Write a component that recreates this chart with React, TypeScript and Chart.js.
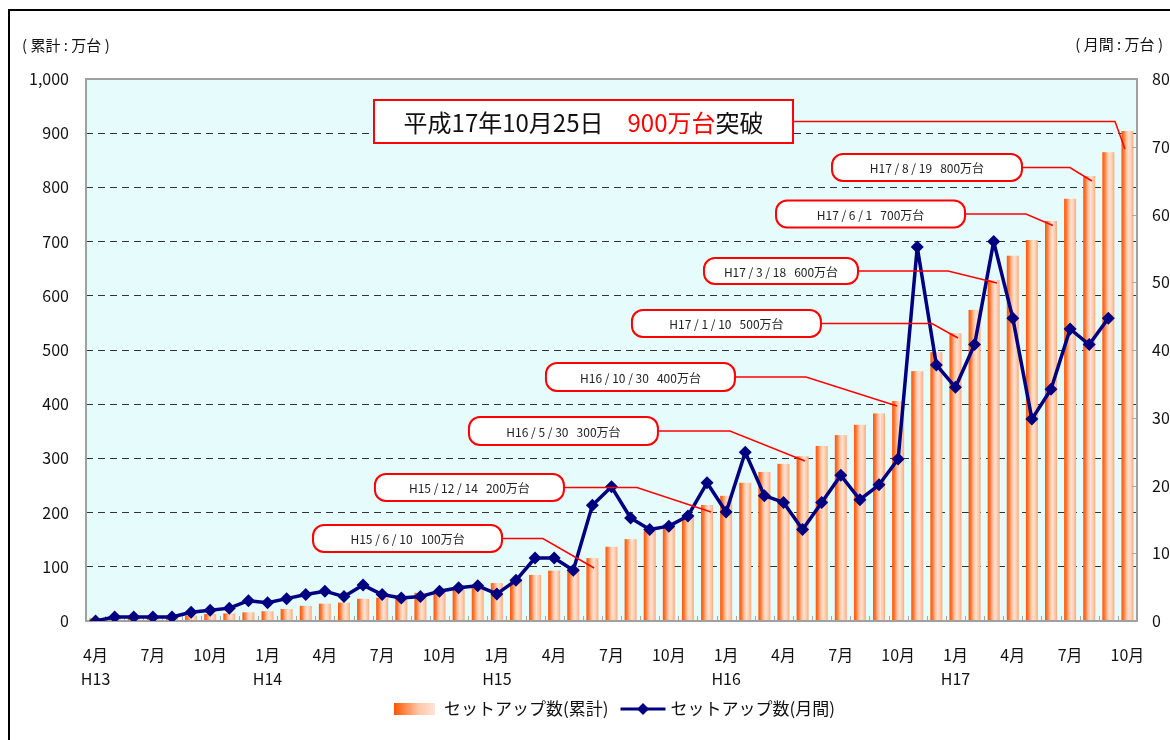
import { useEffect, useRef } from "react";
import { Chart, registerables } from "chart.js";

Chart.register(...registerables);

const FONT = '"Noto Sans CJK JP", "Noto Sans", sans-serif';

// ---- data ----
const categories = [
  "H13/4", "H13/5", "H13/6", "H13/7", "H13/8", "H13/9", "H13/10", "H13/11", "H13/12",
  "H14/1", "H14/2", "H14/3", "H14/4", "H14/5", "H14/6", "H14/7", "H14/8", "H14/9", "H14/10", "H14/11", "H14/12",
  "H15/1", "H15/2", "H15/3", "H15/4", "H15/5", "H15/6", "H15/7", "H15/8", "H15/9", "H15/10", "H15/11", "H15/12",
  "H16/1", "H16/2", "H16/3", "H16/4", "H16/5", "H16/6", "H16/7", "H16/8", "H16/9", "H16/10", "H16/11", "H16/12",
  "H17/1", "H17/2", "H17/3", "H17/4", "H17/5", "H17/6", "H17/7", "H17/8", "H17/9", "H17/10",
];

const tickLabels: (string | string[])[] = [
  ["4月", "H13"], "", "", "7月", "", "", "10月", "", "",
  ["1月", "H14"], "", "", "4月", "", "", "7月", "", "", "10月", "", "",
  ["1月", "H15"], "", "", "4月", "", "", "7月", "", "", "10月", "", "",
  ["1月", "H16"], "", "", "4月", "", "", "7月", "", "", "10月", "", "",
  ["1月", "H17"], "", "", "4月", "", "", "7月", "", "", "10月",
];

// cumulative set-ups (万台), left axis
const cumulative = [
  5, 6, 7, 8, 9, 10, 13, 14, 16, 18,
  22, 28, 32, 34, 41, 43, 46, 52, 55, 58,
  62, 70, 76, 85, 93, 99, 116, 137, 151, 166,
  178, 196, 214, 231, 255, 275, 290, 304, 323, 343,
  362, 383, 406, 461, 496, 531, 574, 629, 674, 703,
  738, 779, 821, 865, 904,
];

// monthly set-ups (万台), right axis
const monthly: (number | null)[] = [
  0.0, 0.6, 0.6, 0.6, 0.6, 1.3, 1.6, 1.9, 3.0, 2.7,
  3.3, 3.9, 4.4, 3.6, 5.3, 3.9, 3.4, 3.6, 4.4, 4.9,
  5.2, 4.0, 6.0, 9.3, 9.3, 7.5, 17.1, 19.8, 15.2, 13.5,
  14.0, 15.5, 20.4, 16.1, 24.9, 18.5, 17.5, 13.5, 17.5, 21.5,
  17.9, 20.1, 23.9, 55.2, 37.8, 34.5, 40.8, 56.0, 44.7, 29.8,
  34.2, 43.1, 40.8, 44.7, null,
];

const leftTicks = [0, 100, 200, 300, 400, 500, 600, 700, 800, 900, 1000];
const rightTicks = [0, 10, 20, 30, 40, 50, 60, 70, 80];

const milestoneDates = ["H15/6/10", "H15/12/14", "H16/5/30", "H16/10/30", "H17/1/10", "H17/3/18", "H17/6/1", "H17/8/19"];
const milestoneAmounts = [100, 200, 300, 400, 500, 600, 700, 800];

const headline = { date: "平成17年10月25日", amount: "900万台", suffix: "突破" };

const seriesNames = ["セットアップ数(累計)", "セットアップ数(月間)"];
const unitLeft = "( 累計 : 万台 )";
const unitRight = "( 月間 : 万台 )";

// callout geometry in data units (x: category index, y: left-axis value)
const calloutLayout = [
  { x0: 11.38, x1: 21.27, yT: 177.1, yB: 127.3, knee: 23.41, ex: 26.09, ey: 97.8 },
  { x0: 14.62, x1: 24.51, yT: 271.2, yB: 221.4, knee: 28.33, ex: 32.21, ey: 201.1 },
  { x0: 19.54, x1: 29.43, yT: 376.4, yB: 324.7, knee: 33.2, ex: 37.12, ey: 295.2 },
  { x0: 23.57, x1: 33.46, yT: 476.0, yB: 424.4, knee: 37.18, ex: 41.94, ey: 396.7 },
  { x0: 28.07, x1: 37.96, yT: 573.8, yB: 524.0, knee: 43.77, ex: 45.13, ey: 522.1 },
  { x0: 31.84, x1: 39.9, yT: 669.7, yB: 621.8, knee: 44.61, ex: 47.17, ey: 623.6 },
  { x0: 35.61, x1: 45.5, yT: 775.8, yB: 726.0, knee: 48.69, ex: 50.1, ey: 729.7 },
  { x0: 38.54, x1: 48.48, yT: 861.6, yB: 811.8, knee: 50.99, ex: 52.14, ey: 811.8 },
];
const headlineLayout = { x0: 14.57, x1: 36.5, yT: 961.3, yB: 881.9, knee: 53.35, ex: 53.87, ey: 870.8 };

const W = 1170;
const H = 740;

function barGradient(ctx: CanvasRenderingContext2D, l: number, r: number) {
  const g = ctx.createLinearGradient(l, 0, r, 0);
  g.addColorStop(0, "#ff5500");
  g.addColorStop(0.2, "#ff7a38");
  g.addColorStop(0.42, "#ffc2a0");
  g.addColorStop(0.62, "#ffe2d2");
  g.addColorStop(0.82, "#ffcaac");
  g.addColorStop(1, "#ffa878");
  return g;
}

function drawDiamond(ctx: CanvasRenderingContext2D, x: number, y: number, r: number) {
  ctx.beginPath();
  ctx.moveTo(x, y - r);
  ctx.lineTo(x + r, y);
  ctx.lineTo(x, y + r);
  ctx.lineTo(x - r, y);
  ctx.closePath();
  ctx.fill();
}

const decoPlugin = {
  id: "deco",
  beforeDraw(chart: any) {
    const { ctx, chartArea: a } = chart;
    ctx.save();
    ctx.fillStyle = "#ffffff";
    ctx.fillRect(0, 0, W, H);
    ctx.strokeStyle = "#000000";
    ctx.lineWidth = 2;
    ctx.beginPath();
    ctx.moveTo(9, H);
    ctx.lineTo(9, 10);
    ctx.lineTo(W, 10);
    ctx.stroke();
    ctx.fillStyle = "#e6fcfc";
    ctx.fillRect(a.left, a.top, a.right - a.left, a.bottom - a.top);
    ctx.restore();
  },
  afterDatasetDraw(chart: any, args: any) {
    if (args.index !== 0) return;
    const { ctx, chartArea: a } = chart;
    const meta = chart.getDatasetMeta(0);
    ctx.save();
    meta.data.forEach((el: any) => {
      const p = el.getProps(["x", "y", "base", "width"], true);
      const l = p.x - p.width / 2;
      const r = p.x + p.width / 2;
      ctx.fillStyle = barGradient(ctx, l, r);
      ctx.fillRect(l, p.y, r - l, p.base - p.y);
    });
    // inner tick marks on the category axis
    const xs = chart.scales.x;
    ctx.strokeStyle = "#a8a8a8";
    ctx.lineWidth = 1;
    for (let i = 0; i <= categories.length; i++) {
      const px = Math.round(xs.getPixelForValue(i - 0.5)) + 0.5;
      ctx.beginPath();
      ctx.moveTo(px, a.bottom);
      ctx.lineTo(px, a.bottom - 5);
      ctx.stroke();
    }
    const y1 = chart.scales.y1;
    rightTicks.forEach((t) => {
      const py = Math.round(y1.getPixelForValue(t)) + 0.5;
      ctx.beginPath();
      ctx.moveTo(a.right, py);
      ctx.lineTo(a.right - 5, py);
      ctx.stroke();
    });
    // plot border
    ctx.strokeStyle = "#a0a0a0";
    ctx.lineWidth = 2;
    ctx.strokeRect(a.left, a.top, a.right - a.left, a.bottom - a.top);
    ctx.restore();
  },
  afterDraw(chart: any) {
    const { ctx, chartArea: a } = chart;
    const xs = chart.scales.x;
    const ys = chart.scales.y;
    ctx.save();

    const drawLeader = (c: any, my: number, x1: number) => {
      ctx.strokeStyle = "#ff0000";
      ctx.lineWidth = 1.5;
      ctx.beginPath();
      ctx.moveTo(x1, my);
      ctx.lineTo(xs.getPixelForValue(c.knee), my);
      ctx.lineTo(xs.getPixelForValue(c.ex), ys.getPixelForValue(c.ey));
      ctx.stroke();
    };

    calloutLayout.forEach((c, i) => {
      const x0 = xs.getPixelForValue(c.x0);
      const x1 = xs.getPixelForValue(c.x1);
      const yT = ys.getPixelForValue(c.yT);
      const yB = ys.getPixelForValue(c.yB);
      const my = (yT + yB) / 2;
      drawLeader(c, my, x1);
      ctx.beginPath();
      (ctx as any).roundRect(x0, yT, x1 - x0, yB - yT, 11);
      ctx.fillStyle = "#ffffff";
      ctx.fill();
      ctx.strokeStyle = "#ff0000";
      ctx.lineWidth = 2;
      ctx.stroke();
      const label = milestoneDates[i].split("/").join(" / ") + "   " + milestoneAmounts[i] + "万台";
      ctx.fillStyle = "#222222";
      ctx.font = `12px ${FONT}`;
      ctx.textAlign = "center";
      ctx.textBaseline = "middle";
      ctx.fillText(label, (x0 + x1) / 2, my + 1);
    });

    // headline box
    {
      const c = headlineLayout;
      const x0 = xs.getPixelForValue(c.x0);
      const x1 = xs.getPixelForValue(c.x1);
      const yT = ys.getPixelForValue(c.yT);
      const yB = ys.getPixelForValue(c.yB);
      const my = (yT + yB) / 2;
      drawLeader(c, my, x1);
      ctx.fillStyle = "#ffffff";
      ctx.fillRect(x0, yT, x1 - x0, yB - yT);
      ctx.strokeStyle = "#ff0000";
      ctx.lineWidth = 2;
      ctx.strokeRect(x0, yT, x1 - x0, yB - yT);
      ctx.font = `24px ${FONT}`;
      ctx.textBaseline = "middle";
      ctx.textAlign = "left";
      const p1 = headline.date + "　";
      const w1 = ctx.measureText(p1).width;
      const w2 = ctx.measureText(headline.amount).width;
      const w3 = ctx.measureText(headline.suffix).width;
      let tx = (x0 + x1) / 2 - (w1 + w2 + w3) / 2;
      ctx.fillStyle = "#111111";
      ctx.fillText(p1, tx, my + 1);
      tx += w1;
      ctx.fillStyle = "#ff0000";
      ctx.fillText(headline.amount, tx, my + 1);
      tx += w2;
      ctx.fillStyle = "#111111";
      ctx.fillText(headline.suffix, tx, my + 1);
    }

    // unit labels
    ctx.font = `15px ${FONT}`;
    ctx.fillStyle = "#111111";
    ctx.textBaseline = "middle";
    ctx.textAlign = "left";
    ctx.fillText(unitLeft, 22, 45);
    ctx.textAlign = "right";
    ctx.fillText(unitRight, 1163, 44);

    // legend
    ctx.font = `17px ${FONT}`;
    ctx.textAlign = "left";
    const sw = 41;
    const t1 = ctx.measureText(seriesNames[0]).width;
    const t2 = ctx.measureText(seriesNames[1]).width;
    const total = sw + 9 + t1 + 12 + 45 + 5 + t2;
    let lx = (a.left + a.right) / 2 + 3 - total / 2;
    const ly = 709;
    ctx.fillStyle = (() => {
      const g = ctx.createLinearGradient(lx, 0, lx + sw, 0);
      g.addColorStop(0, "#ff5500");
      g.addColorStop(0.6, "#ffc6a6");
      g.addColorStop(1, "#ffe4d6");
      return g;
    })();
    ctx.fillRect(lx, ly - 6, sw, 12);
    lx += sw + 9;
    ctx.fillStyle = "#111111";
    ctx.fillText(seriesNames[0], lx, ly);
    lx += t1 + 12;
    ctx.strokeStyle = "#000080";
    ctx.lineWidth = 3;
    ctx.beginPath();
    ctx.moveTo(lx, ly);
    ctx.lineTo(lx + 45, ly);
    ctx.stroke();
    ctx.fillStyle = "#000080";
    drawDiamond(ctx, lx + 22.5, ly, 6);
    lx += 45 + 5;
    ctx.fillStyle = "#111111";
    ctx.fillText(seriesNames[1], lx, ly);

    ctx.restore();
  },
};

export default function App() {
  const ref = useRef<HTMLCanvasElement | null>(null);

  useEffect(() => {
    if (!ref.current) return;
    const chart = new Chart(ref.current, {
      data: {
        labels: categories,
        datasets: [
          {
            type: "bar",
            label: seriesNames[0],
            data: cumulative,
            yAxisID: "y",
            backgroundColor: "rgba(0,0,0,0)",
            borderWidth: 0,
            barThickness: 12,
            order: 1,
          },
          {
            type: "line",
            label: seriesNames[1],
            data: monthly,
            yAxisID: "y1",
            borderColor: "#000080",
            backgroundColor: "#000080",
            borderWidth: 3.5,
            borderJoinStyle: "round",
            pointStyle: "rectRot",
            pointRadius: 6.5,
            pointBorderWidth: 0,
            pointBackgroundColor: "#000080",
            tension: 0,
            spanGaps: false,
            order: 0,
          },
        ],
      } as any,
      options: {
        responsive: false,
        animation: false,
        devicePixelRatio: 1,
        layout: { padding: { top: 79, left: 0, right: 0, bottom: 0 } },
        plugins: {
          legend: { display: false },
          tooltip: { enabled: false },
        },
        scales: {
          x: {
            type: "category",
            offset: true,
            grid: { display: false },
            border: { display: false },
            ticks: {
              autoSkip: false,
              maxRotation: 0,
              minRotation: 0,
              padding: 14,
              color: "#111111",
              font: { family: FONT, size: 16, lineHeight: 1.5 },
              callback: (_v: any, i: number) => tickLabels[i],
            },
            afterFit: (s: any) => {
              s.height = 119;
            },
          },
          y: {
            type: "linear",
            position: "left",
            min: 0,
            max: 1000,
            afterBuildTicks: (s: any) => {
              s.ticks = leftTicks.map((v) => ({ value: v }));
            },
            grid: {
              drawTicks: false,
              color: (c: any) =>
                c.tick && (c.tick.value === 0 || c.tick.value === 1000) ? "rgba(0,0,0,0)" : "#333333",
              lineWidth: 1,
            },
            border: { display: false, dash: [7, 5] },
            ticks: {
              padding: 17,
              color: "#111111",
              font: { family: FONT, size: 16 },
              callback: (v: any) => Number(v).toLocaleString("en-US"),
            },
            afterFit: (s: any) => {
              s.width = 86;
            },
          },
          y1: {
            type: "linear",
            position: "right",
            min: 0,
            max: 80,
            afterBuildTicks: (s: any) => {
              s.ticks = rightTicks.map((v) => ({ value: v }));
            },
            grid: { display: false, drawOnChartArea: false, drawTicks: false },
            border: { display: false },
            ticks: {
              padding: 15,
              color: "#111111",
              font: { family: FONT, size: 16 },
            },
            afterFit: (s: any) => {
              s.width = 33;
            },
          },
        },
      } as any,
      plugins: [decoPlugin],
    });
    return () => chart.destroy();
  }, []);

  return (
    <div style={{ position: "absolute", left: 0, top: 0, width: W, height: H }}>
      <canvas ref={ref} width={W} height={H} style={{ width: W, height: H, display: "block" }} />
    </div>
  );
}
